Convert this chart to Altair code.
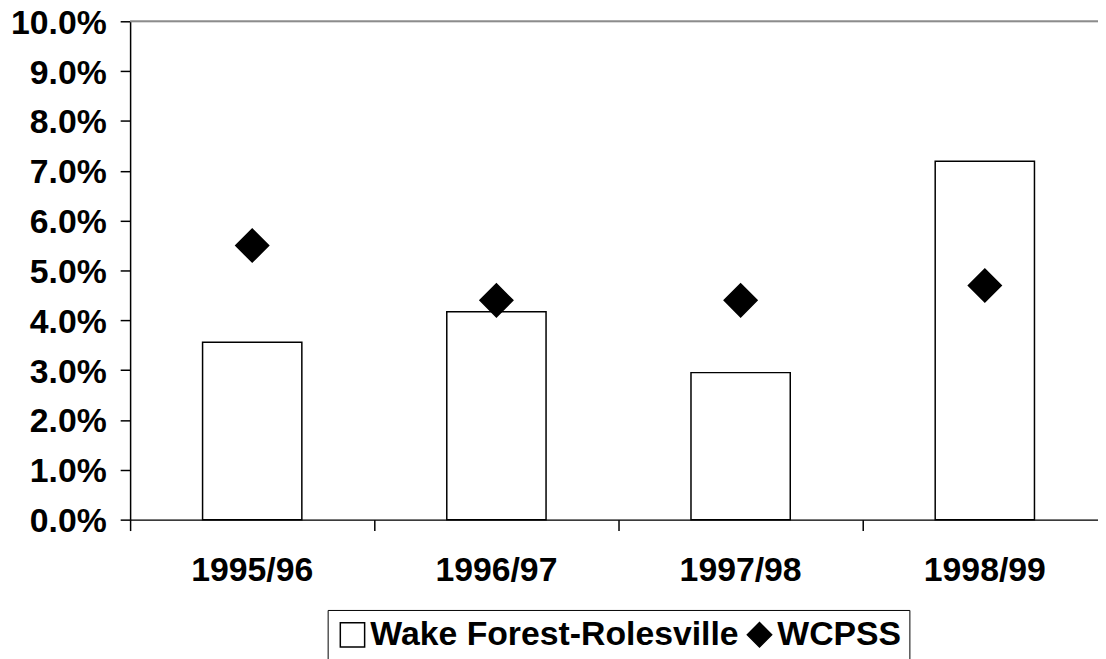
import altair as alt
import pandas as pd

years = ["1995/96", "1996/97", "1997/98", "1998/99"]
wfr_rates = [0.0356, 0.0417, 0.0295, 0.0719]
wcpss_rates = [0.0550, 0.0440, 0.0440, 0.0470]
series_names = ["Wake Forest-Rolesville", "WCPSS"]
y_ticks = [0.0, 0.01, 0.02, 0.03, 0.04, 0.05, 0.06, 0.07, 0.08, 0.09, 0.10]
top_line = [0.10]

FONT = "Liberation Sans"

bars_df = pd.DataFrame({"year": years, "rate": wfr_rates, "series": series_names[0]})
pts_df = pd.DataFrame({"year": years, "rate": wcpss_rates, "series": series_names[1]})
top_df = pd.DataFrame({"rate": top_line})

x_enc = alt.X(
    "year:N", sort=years, title=None,
    scale=alt.Scale(domain=years, range=[0, 984], paddingInner=0, paddingOuter=0),
    axis=alt.Axis(bandPosition=0, tickSize=11, tickColor="black", tickWidth=1.5,
                  domainColor="black", domainWidth=1.5, labelFont=FONT, labelFontSize=34,
                  labelFontWeight="bold", labelColor="black", labelPadding=23, labelAngle=0,
                  grid=False),
)
y_enc = alt.Y(
    "rate:Q", title=None,
    scale=alt.Scale(domain=[0, 0.10], nice=False, zero=True),
    axis=alt.Axis(values=y_ticks, format=".1%", tickSize=10, tickColor="black", tickWidth=1.5,
                  domainColor="black", domainWidth=1.5, labelFont=FONT, labelFontSize=34,
                  labelFontWeight="bold", labelColor="black", labelPadding=14, labelOffset=2,
                  grid=False),
)

legend = alt.Legend(
    title=None, orient="none", legendX=199, legendY=593, direction="horizontal",
    strokeColor="black", fillColor="white", padding=8, cornerRadius=0,
    labelFont=FONT, labelFontSize=34, labelFontWeight="bold", labelColor="black",
    labelOffset=1, columnPadding=4, symbolSize=600, symbolStrokeColor="black",
    symbolStrokeWidth=1.5, labelLimit=500,
)

top_rule = alt.Chart(top_df).mark_rule(color="#8c8c8c", strokeWidth=2).encode(y=alt.Y("rate:Q"))

bars = alt.Chart(bars_df).mark_bar(fill="white", stroke="black", strokeWidth=1.5, width=100).encode(
    x=x_enc, y=y_enc
)

points = alt.Chart(pts_df).mark_point(filled=True, size=1100, opacity=1, strokeWidth=1.5).encode(
    x=alt.X("year:N", sort=years),
    y=alt.Y("rate:Q"),
    shape=alt.Shape("series:N", scale=alt.Scale(domain=series_names, range=["square", "diamond"]), legend=legend),
    fill=alt.Fill("series:N", scale=alt.Scale(domain=series_names, range=["white", "black"]), legend=legend),
    stroke=alt.Stroke("series:N", scale=alt.Scale(domain=series_names, range=["black", "black"]), legend=legend),
)

chart = alt.layer(top_rule, bars, points).properties(
    width=975, height=502,
    autosize=alt.AutoSizeParams(type="none"),
    padding={"left": 123, "top": 11, "right": 0, "bottom": 138},
).configure_view(stroke=None).configure(background="white")

chart.save("out.html", embed_options={"renderer": "svg", "actions": False})
